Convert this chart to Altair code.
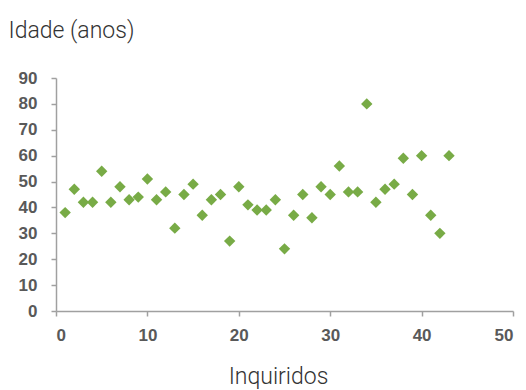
import altair as alt
import pandas as pd

inquiridos = list(range(1, 44))
idade = [38, 47, 42, 42, 54, 42, 48, 43, 44, 51,
         43, 46, 32, 45, 49, 37, 43, 45, 27, 48,
         41, 39, 39, 43, 24, 37, 45, 36, 48, 45,
         56, 46, 46, 80, 42, 47, 49, 59, 45, 60,
         37, 30, 60]
x_ticks = [0, 10, 20, 30, 40, 50]
y_ticks = [0, 10, 20, 30, 40, 50, 60, 70, 80, 90]

df = pd.DataFrame({"Inquiridos": inquiridos, "Idade": idade})

axis_common = dict(
    domainColor="#a0a0a0", domainWidth=1.5,
    tickColor="#a0a0a0", tickWidth=1.5, tickSize=5,
    grid=False,
    labelFont="Liberation Sans", labelFontWeight="bold", labelFontSize=17,
    labelColor="#595959",
    titleFont="Roboto", titleFontWeight=300, titleFontSize=23, titleColor="#333333",
    titleBaseline="alphabetic",
)

chart = alt.Chart(df).mark_point(
    shape="diamond", filled=True, size=130, color="#78ab46", opacity=1
).encode(
    x=alt.X("Inquiridos:Q",
            scale=alt.Scale(domain=[0, 50], nice=False, zero=True),
            axis=alt.Axis(values=x_ticks, title="Inquiridos", labelPadding=11,
                          titleAngle=0, titleAlign="center", titleX=222, titleY=72,
                          **axis_common)),
    y=alt.Y("Idade:Q",
            scale=alt.Scale(domain=[0, 90], nice=False),
            axis=alt.Axis(values=y_ticks, title="Idade (anos)", labelPadding=14,
                          titleAngle=0, titleAlign="left", titleX=-48, titleY=-41,
                          **axis_common)),
).properties(
    width=457, height=233,
    autosize=alt.AutoSizeParams(type="none"),
    padding={"left": 56, "top": 78, "right": 13, "bottom": 79},
).configure_view(stroke=None)

chart.save("out.html", embed_options={"renderer": "svg", "actions": False})
